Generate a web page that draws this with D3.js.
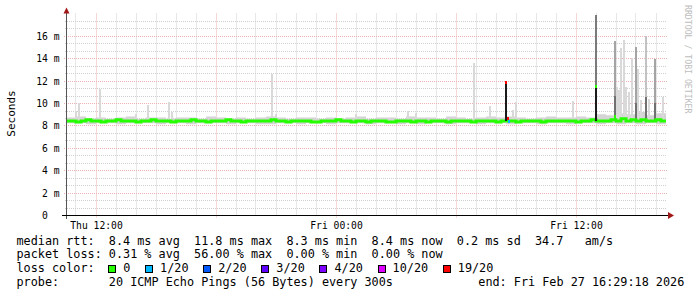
<!DOCTYPE html>
<html>
<head>
<meta charset="utf-8">
<script src="https://cdn.jsdelivr.net/npm/d3@7"></script>
<style>
body { margin: 0; background: #fff; }
svg text { font-family: "DejaVu Sans Mono", monospace; white-space: pre; }
</style>
</head>
<body>
<svg id="chart" width="697" height="297"></svg>
<script>
// SMOKEPING RTT CHART - DATA

var startTime = new Date(2026, 1, 26, 10, 30);
var endTime = new Date(2026, 1, 27, 16, 30);

var yTicks = [0, 2, 4, 6, 8, 10, 12, 14, 16];
var xLabelTimes = [new Date(2026, 1, 26, 12), new Date(2026, 1, 27, 0), new Date(2026, 1, 27, 12)];
var xLabels = ["Thu 12:00", "Fri 00:00", "Fri 12:00"];

// median rtt (ms), one value every 15 minutes from Thu 10:30
var medianMs = [
  8.4,8.4,8.3,8.4,8.5,8.4,8.4,8.3,8.4,8.4,8.5,8.4,8.4,8.4,8.3,8.4,8.4,8.5,8.4,8.4,
  8.4,8.3,8.4,8.4,8.4,8.5,8.4,8.4,8.3,8.4,8.4,8.4,8.5,8.4,8.4,8.3,8.4,8.4,8.4,8.4,
  8.4,8.5,8.4,8.4,8.3,8.4,8.4,8.4,8.4,8.3,8.3,8.4,8.4,8.4,8.5,8.4,8.4,8.3,8.4,8.4,
  8.3,8.4,8.4,8.4,8.3,8.3,8.4,8.4,8.4,8.3,8.4,8.4,8.3,8.4,8.4,8.4,8.3,8.4,8.4,8.4,
  8.4,8.3,8.4,8.4,8.4,8.4,8.3,8.4,8.4,8.4,8.3,8.4,8.4,8.4,8.4,8.3,8.4,8.4,8.4,8.4,
  8.4,8.4,8.3,8.4,8.4,8.5,8.4,8.4,8.4,8.5,8.4,8.6,8.4,8.5,8.4,8.5,8.4,8.4,8.5,8.4
];

// smoke band (ms), one value every 30 minutes
var smokeLoMs = [
  8.2,8.2,8.1,8.2,8.2,8.1,8.2,8.2,8.2,8.1,8.2,8.2,8.1,8.2,8.2,8.2,8.1,8.2,8.2,8.1,
  8.1,8.2,8.2,8.1,8.2,8.2,8.1,8.2,8.2,8.2,8.1,8.2,8.2,8.1,8.2,8.1,8.2,8.2,8.1,8.2,
  8.2,8.1,8.2,8.2,8.1,8.2,8.2,8.1,8.2,8.2,8.1,8.2,8.2,8.1,8.2,8.1,8.2,8.1,8.2,8.1
];
var smokeHiMs = [
  8.7,8.8,8.6,8.7,8.6,8.7,8.8,8.6,8.7,8.7,8.6,8.7,8.7,8.6,8.8,8.7,8.6,8.7,8.6,8.7,
  8.8,8.7,8.6,8.7,8.7,8.6,8.7,8.6,8.7,8.8,8.6,8.7,8.7,8.6,8.8,8.7,8.7,8.6,8.8,8.7,
  8.6,8.7,8.8,8.7,8.8,8.7,8.6,8.7,8.8,8.7,8.7,8.8,8.7,9.0,8.9,9.1,9.0,9.2,8.9,9.1
];

// outlier pings (hours after start, top ms, pings above base, top of dense part)
var spikeHour  = [0.45, 0.6, 1.65, 3.45, 4.05, 5.1, 5.25, 10.25, 10.45, 14.45, 17.05, 17.45, 20.35, 21.15, 22.3, 22.45, 25.3,
                  26.45, 27.4, 27.5, 27.6, 27.7, 27.85, 27.95, 28.1, 28.25, 28.45, 28.55, 28.7, 28.95, 29.1, 29.4, 29.8];
var spikeTopMs = [9.25, 10.0, 11.3, 9.0, 9.85, 10.1, 9.2, 12.6, 9.0, 9.0, 9.3, 9.1, 13.6, 9.7, 9.4, 10.1, 10.2,
                  17.9, 15.5, 11.4, 11.2, 14.9, 15.6, 11.4, 11.0, 14.05, 15.0, 13.0, 10.3, 16.0, 10.4, 13.9, 10.5];
var spikePings = [1, 1, 1, 1, 1, 1, 1, 1, 1, 1, 1, 1, 1, 1, 1, 1, 1,
                  9, 4, 1, 1, 1, 1, 1, 1, 1, 4, 1, 1, 2, 1, 4, 1];
var spikeCoreMs = [0, 0, 0, 0, 0, 0, 0, 0, 0, 0, 0, 0, 0, 0, 0, 0, 0,
                  11.5, 10.6, 0, 0, 0, 0, 0, 0, 0, 10.0, 0, 0, 10.5, 0, 10.0, 0];

// short median jumps with their loss count
var eventHour = [21.95, 22.03, 22.1, 26.45, 27.4];
var eventMedianMs = [11.8, 8.6, 8.35, 11.5, 8.8];
var eventLoss = [19, 19, 1, 0, 0];

var lossLevels = [0, 1, 2, 3, 4, 10, 19];
var lossLabels = ["0", "1/20", "2/20", "3/20", "4/20", "10/20", "19/20"];
var lossColors = ["#26ff00", "#00b8ff", "#0059ff", "#5e00ff", "#7e00ff", "#dd00ff", "#ff0000"];

var legendLines = [
  "median rtt:  8.4 ms avg  11.8 ms max  8.3 ms min  8.4 ms now  0.2 ms sd  34.7   am/s",
  "packet loss: 0.31 % avg  56.00 % max  0.00 % min  0.00 % now",
  "loss color:",
  "probe:       20 ICMP Echo Pings (56 Bytes) every 300s"
];
var endLabel = "end: Fri Feb 27 16:29:18 2026";

// DRAWING

var svg = d3.select("#chart");

var x = d3.scaleTime().domain([startTime, endTime]).range([66, 666]);
var y = d3.scaleLinear().domain([0, 18]).range([215, 13.5]);
function px(v) { return Math.floor(v) + 0.5; }
function py(v) { return Math.round(v) + 0.5; }
function hourToTime(h) { return d3.timeMinute.offset(startTime, Math.round(h * 60)); }
function lossColor(l) { return lossColors[lossLevels.indexOf(l)]; }

// grid
var grid = svg.append("g");
var minorY = d3.range(0, 27.5).map(function (i) { return i * 2 / 3; })
  .filter(function (v) { return v > 0 && Math.abs(v / 2 - Math.round(v / 2)) > 0.01; });
grid.selectAll(".hminor").data(minorY).enter().append("line")
  .attr("x1", 65).attr("x2", 667)
  .attr("y1", function (d) { return py(y(d)); }).attr("y2", function (d) { return py(y(d)); })
  .attr("stroke", "#cfcfcf").attr("stroke-dasharray", "1,1");

var hours = d3.timeHour.range(startTime, endTime).filter(function (d) { return d.getHours() % 6 != 0; });
grid.selectAll(".vminor").data(hours).enter().append("line")
  .attr("x1", function (d) { return px(x(d)); }).attr("x2", function (d) { return px(x(d)); })
  .attr("y1", 13.5).attr("y2", 216)
  .attr("stroke", "#cfcfcf").attr("stroke-dasharray", "1,1");

grid.selectAll(".hmajor").data(yTicks.slice(1)).enter().append("line")
  .attr("x1", 64).attr("x2", 668)
  .attr("y1", function (d) { return py(y(d)); }).attr("y2", function (d) { return py(y(d)); })
  .attr("stroke", "#ebb3b3").attr("stroke-dasharray", "1,1");

var sixHours = d3.timeHour.every(6).range(startTime, endTime);
grid.selectAll(".vmajor").data(sixHours).enter().append("line")
  .attr("x1", function (d) { return px(x(d)); }).attr("x2", function (d) { return px(x(d)); })
  .attr("y1", 13.5).attr("y2", 218)
  .attr("stroke", "#ebb3b3").attr("stroke-dasharray", "1,1");

// smoke band
var smokeData = smokeLoMs.map(function (v, i) {
  return { t: d3.timeMinute.offset(startTime, i * 30), lo: v, hi: smokeHiMs[i] };
});
smokeData.push({ t: endTime, lo: smokeLoMs[smokeLoMs.length - 1], hi: smokeHiMs[smokeHiMs.length - 1] });
svg.append("path").datum(smokeData)
  .attr("d", d3.area().curve(d3.curveStepAfter)
    .x(function (d) { return x(d.t); })
    .y0(function (d) { return y(d.lo); })
    .y1(function (d) { return y(d.hi); }))
  .attr("fill", "#d4d4d4");

// outlier spikes
var shade = { 1: "#d9d9d9", 2: "#c2c2c2", 4: "#a4a4a4", 9: "#7a7a7a" };
var spikes = spikeHour.map(function (h, i) {
  return { t: hourToTime(h), top: spikeTopMs[i], pings: spikePings[i], core: spikeCoreMs[i] };
});
var spikeG = svg.append("g").attr("shape-rendering", "crispEdges");
spikes.forEach(function (s) {
  var x0 = Math.round(x(s.t)), x1 = Math.max(x0 + 2, Math.round(x(d3.timeMinute.offset(s.t, 5))));
  spikeG.append("rect").attr("x", x0).attr("width", x1 - x0)
    .attr("y", y(s.top)).attr("height", y(8.4) - y(s.top))
    .attr("fill", shade[s.pings]);
  if (s.core > 0) {
    spikeG.append("rect").attr("x", x0).attr("width", x1 - x0)
      .attr("y", y(s.core)).attr("height", y(8.4) - y(s.core))
      .attr("fill", s.pings >= 9 ? "#1e1e1e" : "#707070");
  }
});

// median line
var medianData = medianMs.map(function (v, i) {
  return { t: d3.timeMinute.offset(startTime, i * 15), v: v };
});
medianData.push({ t: endTime, v: medianMs[medianMs.length - 1] });
svg.append("path").datum(medianData)
  .attr("d", d3.line().curve(d3.curveStepAfter)
    .x(function (d) { return x(d.t); })
    .y(function (d) { return y(d.v); }))
  .attr("fill", "none").attr("stroke", lossColor(0)).attr("stroke-width", 3);

// median jumps
var evG = svg.append("g").attr("shape-rendering", "crispEdges");
eventHour.forEach(function (h, i) {
  var t = hourToTime(h);
  var x0 = Math.round(x(t)), x1 = Math.max(x0 + 2, Math.round(x(d3.timeMinute.offset(t, 5))));
  var m = eventMedianMs[i];
  if (m - 8.4 > 1) {
    evG.append("rect").attr("x", x0).attr("width", 2)
      .attr("y", y(m)).attr("height", y(8.4) - y(m)).attr("fill", "#1a1a1a");
  }
  evG.append("rect").attr("x", x0).attr("width", x1 - x0)
    .attr("y", y(m) - 1.5).attr("height", 3).attr("fill", lossColor(eventLoss[i]));
});

// axes
svg.append("line").attr("x1", 66.5).attr("x2", 66.5).attr("y1", 11).attr("y2", 219)
  .attr("stroke", "#555");
svg.append("line").attr("x1", 62).attr("x2", 669).attr("y1", 215.5).attr("y2", 215.5)
  .attr("stroke", "#000");
svg.append("path").attr("d", "M66.5,7.5L63.5,13.5L69.5,13.5Z").attr("fill", "#a01818");
svg.append("path").attr("d", "M674,215.5L668,212L668,219Z").attr("fill", "#a01818");

svg.selectAll(".ylab").data(yTicks).enter().append("text")
  .attr("x", 59.5).attr("y", function (d) { return py(y(d)); }).attr("dy", "0.36em")
  .attr("text-anchor", "end").attr("font-size", "9.7px").attr("fill", "#000")
  .text(function (d) { return d == 0 ? "0  " : d + " m"; });

svg.selectAll(".xlab").data(xLabelTimes).enter().append("text")
  .attr("x", function (d) { return px(x(d)); }).attr("y", 228.5)
  .attr("text-anchor", "middle").attr("font-size", "9.7px").attr("fill", "#000")
  .text(function (d, i) { return xLabels[i]; });

svg.append("text").attr("transform", "translate(14.5,113.5) rotate(-90)")
  .attr("text-anchor", "middle").attr("font-size", "11px").attr("fill", "#000")
  .text("Seconds");

svg.append("text").attr("transform", "translate(684.5,5) rotate(90)")
  .attr("font-size", "8.2px").attr("fill", "#bdbdbd")
  .text("RRDTOOL / TOBI OETIKER");

// legend
var legendY = [244.5, 258.2, 271.9, 285.6];
legendLines.forEach(function (s, i) {
  svg.append("text").attr("x", 16.5).attr("y", legendY[i])
    .attr("font-size", "11.8px").attr("fill", "#000").text(s);
});
svg.append("text").attr("x", 478.3).attr("y", legendY[3])
  .attr("font-size", "11.8px").attr("fill", "#000").text(endLabel);

var bx = 108.3;
lossLabels.forEach(function (lab, i) {
  svg.append("rect").attr("x", Math.round(bx) + 0.5).attr("y", 265.5)
    .attr("width", 7).attr("height", 7)
    .attr("fill", lossColors[i]).attr("stroke", "#000");
  var t = svg.append("text").attr("x", bx + 15).attr("y", legendY[2])
    .attr("font-size", "11.8px").attr("fill", "#000").text(lab);
  bx = bx + 15 + t.node().getComputedTextLength() + 14.7;
});
</script>
</body>
</html>
